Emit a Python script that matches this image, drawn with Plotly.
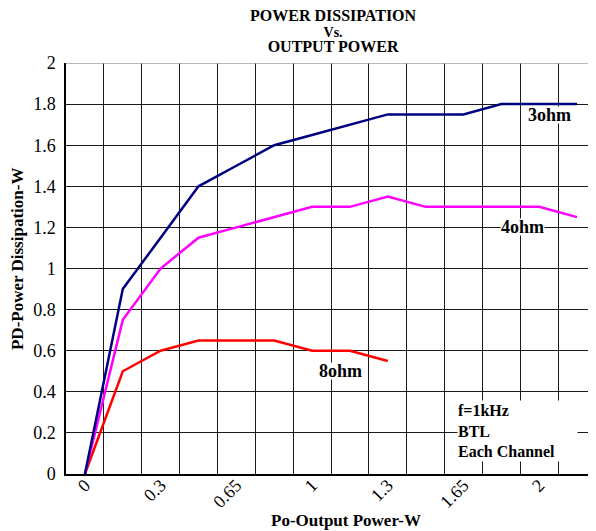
import plotly.graph_objects as go

# category slots along the x axis (Excel-style category chart, labels every other slot)
slots = [0, 1, 2, 3, 4, 5, 6, 7, 8, 9, 10, 11, 12, 13]
tick_slots = [0, 2, 4, 6, 8, 10, 12]
tick_labels = ["0", "0.3", "0.65", "1", "1.3", "1.65", "2"]

pd_3ohm = [0, 0.9, 1.15, 1.4, 1.5, 1.6, 1.65, 1.7, 1.75, 1.75, 1.75, 1.8, 1.8, 1.8]
pd_4ohm = [0, 0.75, 1.0, 1.15, 1.2, 1.25, 1.3, 1.3, 1.35, 1.3, 1.3, 1.3, 1.3, 1.25]
pd_8ohm = [0, 0.5, 0.6, 0.65, 0.65, 0.65, 0.6, 0.6, 0.55]

SERIF = "Liberation Serif, DejaVu Serif, Times New Roman, serif"

fig = go.Figure()

for vals, color in [
    (pd_8ohm, "#ff0000"),
    (pd_4ohm, "#ff00ff"),
    (pd_3ohm, "#000080"),
]:
    fig.add_trace(
        go.Scatter(
            x=slots[: len(vals)],
            y=vals,
            mode="lines",
            line=dict(color=color, width=2.5),
            showlegend=False,
        )
    )

# curve labels, white boxes hide the grid behind them
for text, x, y in [("3ohm", 12.28, 1.747), ("4ohm", 11.57, 1.202), ("8ohm", 6.74, 0.501)]:
    fig.add_annotation(
        x=x, y=y, text=f"<b>{text}</b>", showarrow=False,
        font=dict(family=SERIF, size=18, color="black"),
        bgcolor="white", borderpad=0, height=16,
    )

fig.add_annotation(
    x=11.43, y=0.207,
    text="<b>f=1kHz<br>BTL<br>Each Channel</b>",
    showarrow=False, align="left",
    width=119, height=60, bgcolor="white", borderpad=0,
    font=dict(family=SERIF, size=16, color="black"),
)

# title, three tight lines (small base size keeps the line spacing short)
fig.add_annotation(
    x=0.5038, y=1.0779, xref="paper", yref="paper",
    text=(
        "<b><span style='font-size:16px'>POWER DISSIPATION</span><br>"
        "<span style='font-size:14px'>Vs.</span><br>"
        "<span style='font-size:16px'>OUTPUT POWER</span></b>"
    ),
    showarrow=False, xanchor="center", yanchor="middle",
    font=dict(family=SERIF, size=12, color="black"),
)

# axis titles
fig.add_annotation(
    x=-0.0925, y=0.523, xref="paper", yref="paper",
    xanchor="center", yanchor="middle",
    text="<b>PD-Power Dissipation-W</b>", textangle=-90, showarrow=False,
    font=dict(family=SERIF, size=17, color="black"),
)
fig.add_annotation(
    x=0.528, y=-0.112, xref="paper", yref="paper",
    xanchor="center", yanchor="middle",
    text="<b>Po-Output Power-W</b>", showarrow=False,
    font=dict(family=SERIF, size=17, color="black"),
)

# top border is grey in the original
fig.add_shape(
    type="line", xref="paper", yref="y", x0=0, x1=1, y0=2, y1=2,
    line=dict(color="#a0a0a0", width=1.5), layer="above",
)

fig.update_layout(
    width=596,
    height=531,
    # page body adds 8px; margins keep the plot box at the reference spot
    margin=dict(l=58, r=8, t=55, b=65),
    plot_bgcolor="white",
    paper_bgcolor="white",
    font=dict(family=SERIF, size=18, color="black"),
    xaxis=dict(
        range=[-0.5, 13.5],
        tickmode="array",
        tickvals=tick_slots,
        ticktext=tick_labels,
        tickangle=-45,
        ticklabelstandoff=-8,
        showgrid=False,
        zeroline=False,
        showline=True,
        linecolor="black",
        linewidth=1.5,
        ticks="",
        minor=dict(tick0=0.5, dtick=1, showgrid=True, gridcolor="#1a1a1a", gridwidth=1.3),
        tickfont=dict(family=SERIF, size=18, color="black"),
    ),
    yaxis=dict(
        range=[0, 2],
        dtick=0.2,
        tickformat="~g",
        showgrid=True,
        gridcolor="#1a1a1a",
        gridwidth=1.3,
        zeroline=False,
        showline=True,
        linecolor="black",
        linewidth=1.5,
        ticks="",
        ticklabelstandoff=5,
        tickfont=dict(family=SERIF, size=18, color="black"),
    ),
)

fig.write_html("out.html")
